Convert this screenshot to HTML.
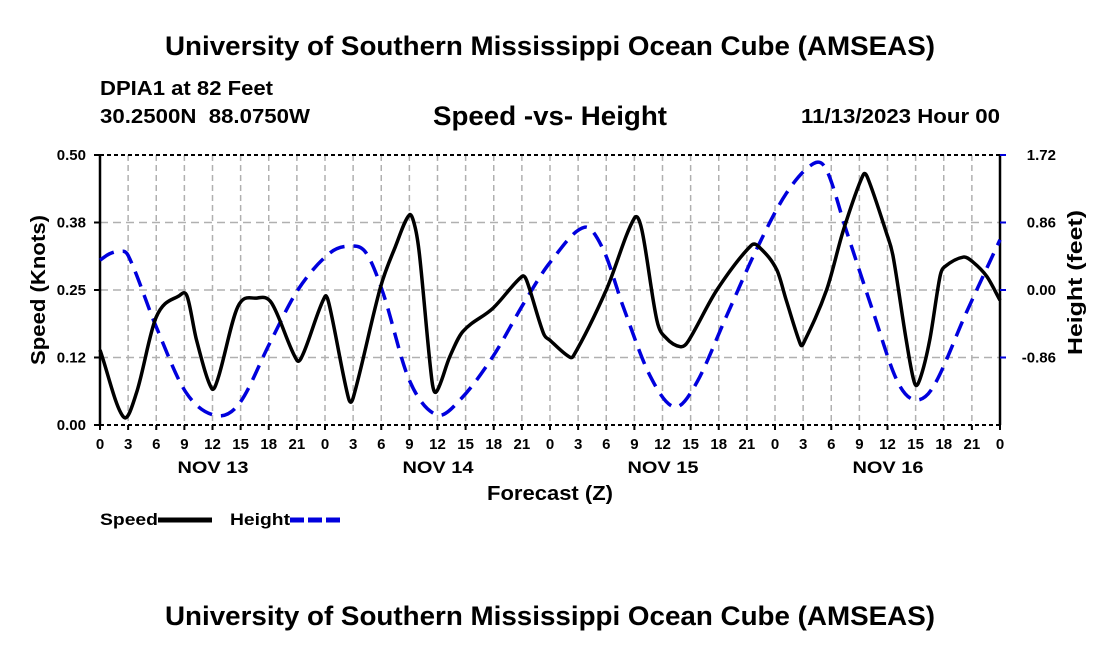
<!DOCTYPE html>
<html><head><meta charset="utf-8">
<style>
body{margin:0;background:#fff;font-family:"Liberation Sans",Arial,sans-serif;}
svg text{font-family:"Liberation Sans",Arial,sans-serif;font-weight:bold;}
</style></head>
<body>
<svg width="1100" height="650" viewBox="0 0 1100 650" id="chart">
<text x="165" y="55" font-size="27" textLength="770" lengthAdjust="spacingAndGlyphs">University of Southern Mississippi Ocean Cube (AMSEAS)</text>
<text x="100" y="95" font-size="20" textLength="173" lengthAdjust="spacingAndGlyphs">DPIA1 at 82 Feet</text>
<text x="100" y="123" font-size="20" textLength="210" lengthAdjust="spacingAndGlyphs" xml:space="preserve">30.2500N  88.0750W</text>
<text x="433" y="125" font-size="27" textLength="234" lengthAdjust="spacingAndGlyphs">Speed -vs- Height</text>
<text x="801" y="123" font-size="20" textLength="199" lengthAdjust="spacingAndGlyphs">11/13/2023 Hour 00</text>
<g id="grid"></g>
<g id="axes"></g>
<g id="series"></g>
<text x="487" y="500" font-size="20" textLength="126" lengthAdjust="spacingAndGlyphs">Forecast (Z)</text>
<text transform="translate(45,365) rotate(-90)" font-size="20" textLength="150" lengthAdjust="spacingAndGlyphs">Speed (Knots)</text>
<text transform="translate(1082,355) rotate(-90)" font-size="20" textLength="145" lengthAdjust="spacingAndGlyphs">Height (feet)</text>
<g>
<text x="100" y="525" font-size="17" textLength="58" lengthAdjust="spacingAndGlyphs">Speed</text>
<line x1="158" y1="520" x2="212" y2="520" stroke="#000" stroke-width="5"/>
<text x="230" y="525" font-size="17" textLength="60" lengthAdjust="spacingAndGlyphs">Height</text>
<line x1="290" y1="520" x2="344" y2="520" stroke="#0000dd" stroke-width="5" stroke-dasharray="14,4"/>
</g>
<text x="165" y="625" font-size="27" textLength="770" lengthAdjust="spacingAndGlyphs">University of Southern Mississippi Ocean Cube (AMSEAS)</text>
</svg>
<script>
const speedHours=[0,2.5,3.9,6,8.5,9.3,10.3,11.9,12.6,14.7,16.7,18.3,21,21.7,24,24.5,26.5,27,29.9,31.5,33,33.6,34.1,35.4,35.9,37.3,38.7,41.9,45,45.5,47.3,48,49.9,50.5,54,57,57.8,59.4,60.4,61.9,62.7,65.8,69.5,70.4,72.2,73.2,74.7,75,77.5,79.3,81.4,81.9,83.9,84.6,86,86.9,87.5,88.5,89.6,90.1,92.1,93.1,94.6,96];
const speedValues=[0.139,0.015,0.06,0.2,0.24,0.238,0.157,0.068,0.087,0.219,0.235,0.226,0.12,0.133,0.238,0.219,0.05,0.05,0.254,0.33,0.389,0.367,0.312,0.083,0.062,0.126,0.173,0.216,0.275,0.268,0.17,0.157,0.128,0.128,0.25,0.383,0.361,0.194,0.161,0.145,0.154,0.25,0.333,0.328,0.287,0.231,0.15,0.15,0.25,0.361,0.463,0.457,0.355,0.312,0.157,0.077,0.087,0.157,0.275,0.293,0.311,0.302,0.275,0.231];
const heightHours=[0,1,2,3,6,9.2,12.4,14.9,18.1,21.1,24.5,26.8,28.4,30.2,33,35.9,38.4,41.9,45.2,48,51.7,53.7,55.8,58.7,61.3,63.6,66.8,70,73.2,76.1,77.5,79.6,82.5,85,86.9,88.9,92.4,96];
const heightValues=[0.38,0.46,0.49,0.44,-0.47,-1.31,-1.6,-1.44,-0.68,0.0,0.47,0.56,0.47,-0.04,-1.15,-1.59,-1.4,-0.85,-0.17,0.35,0.80,0.51,-0.21,-1.1,-1.49,-1.19,-0.34,0.51,1.23,1.61,1.53,0.76,-0.29,-1.15,-1.4,-1.23,-0.29,0.64];
const leftTicks=[0,0.125,0.25,0.375,0.5];
const leftTickLabels=["0.00","0.12","0.25","0.38","0.50"];
const rightTicks=[-0.86,0,0.86,1.72];
const rightTickLabels=["-0.86","0.00","0.86","1.72"];
const dayLabels=["NOV 13","NOV 14","NOV 15","NOV 16"];

const X0=100,X1=1000,Y0=155,Y1=425;
const xS=h=>X0+(h/96)*(X1-X0);
const yL=v=>Y1-(v/0.5)*(Y1-Y0);
const yR=v=>Y1-((v+1.72)/3.44)*(Y1-Y0);
const NS="http://www.w3.org/2000/svg";
function mk(tag,attrs,parent){const e=document.createElementNS(NS,tag);for(const k in attrs)e.setAttribute(k,attrs[k]);parent.appendChild(e);return e;}
const grid=document.getElementById('grid'),axes=document.getElementById('axes'),series=document.getElementById('series');

for(let h=3;h<96;h+=3){
  const g=mk('line',{x1:xS(h),y1:Y0,x2:xS(h),y2:Y1,stroke:'#b0b0b0','stroke-width':1.5,'stroke-dasharray':'6,4'},grid);
  
  
}
leftTicks.slice(1,-1).forEach(v=>{
  const g=mk('line',{x1:X0,y1:yL(v),x2:X1,y2:yL(v),stroke:'#b0b0b0','stroke-width':1.5,'stroke-dasharray':'8,5'},grid);
  
  
});
let b=mk('line',{x1:X0,y1:Y0,x2:X1,y2:Y0,stroke:'#000','stroke-width':2,'stroke-dasharray':'4,3'},axes);


b=mk('line',{x1:X0,y1:Y1,x2:X1,y2:Y1,stroke:'#000','stroke-width':2,'stroke-dasharray':'4,3'},axes);


b=mk('line',{x1:X0,y1:Y0,x2:X0,y2:Y1,stroke:'#000','stroke-width':2.5},axes);


b=mk('line',{x1:X1,y1:Y0,x2:X1,y2:Y1,stroke:'#000','stroke-width':2.5},axes);



for(let h=0;h<=96;h+=3){
  const t=mk('line',{x1:xS(h),y1:Y1,x2:xS(h),y2:Y1+5,stroke:'#000','stroke-width':2},axes);
  
  
  const l=mk('text',{x:xS(h),y:449,'font-size':15,'text-anchor':'middle'},axes);
  l.textContent=String(h%24);
  
  
}
dayLabels.forEach((d,i)=>{
  const l=mk('text',{x:xS(12+24*i)-35,y:473,'font-size':17,textLength:71,lengthAdjust:'spacingAndGlyphs'},axes);
  l.textContent=d;
  
  
});
leftTicks.forEach((v,i)=>{
  const t=mk('line',{x1:X0-6,y1:yL(v),x2:X0,y2:yL(v),stroke:'#000','stroke-width':2},axes);
  
  
  const l=mk('text',{x:X0-14,y:yL(v)+5,'font-size':15,'text-anchor':'end'},axes);
  l.textContent=leftTickLabels[i];
  
  
});
rightTicks.forEach((v,i)=>{
  const t=mk('line',{x1:X1,y1:yR(v),x2:X1+6,y2:yR(v),stroke:'#0000dd','stroke-width':2},axes);
  
  
  const l=mk('text',{x:1056,y:yR(v)+5,'font-size':15,'text-anchor':'end'},axes);
  l.textContent=rightTickLabels[i];
  
  
});
function smooth(pts){
  const n=pts.length,m=[];
  for(let i=0;i<n;i++){
    const a=pts[Math.max(0,i-1)],c=pts[Math.min(n-1,i+1)];
    m.push((c[1]-a[1])/(c[0]-a[0]));
  }
  let d='M'+pts[0][0]+','+pts[0][1];
  for(let i=0;i<n-1;i++){
    const p1=pts[i],p2=pts[i+1],dx=(p2[0]-p1[0])/3;
    d+=' C'+(p1[0]+dx)+','+(p1[1]+m[i]*dx)+' '+(p2[0]-dx)+','+(p2[1]-m[i+1]*dx)+' '+p2[0]+','+p2[1];
  }
  return d;
}
const hp=mk('path',{d:smooth(heightHours.map((h,i)=>[xS(h),yR(heightValues[i])])),fill:'none',stroke:'#0000dd','stroke-width':3.5,'stroke-dasharray':'16,9'},series);


const sp=mk('path',{d:smooth(speedHours.map((h,i)=>[xS(h),yL(speedValues[i])])),fill:'none',stroke:'#000','stroke-width':3.5,'stroke-linejoin':'round'},series);


</script>
</body></html>
